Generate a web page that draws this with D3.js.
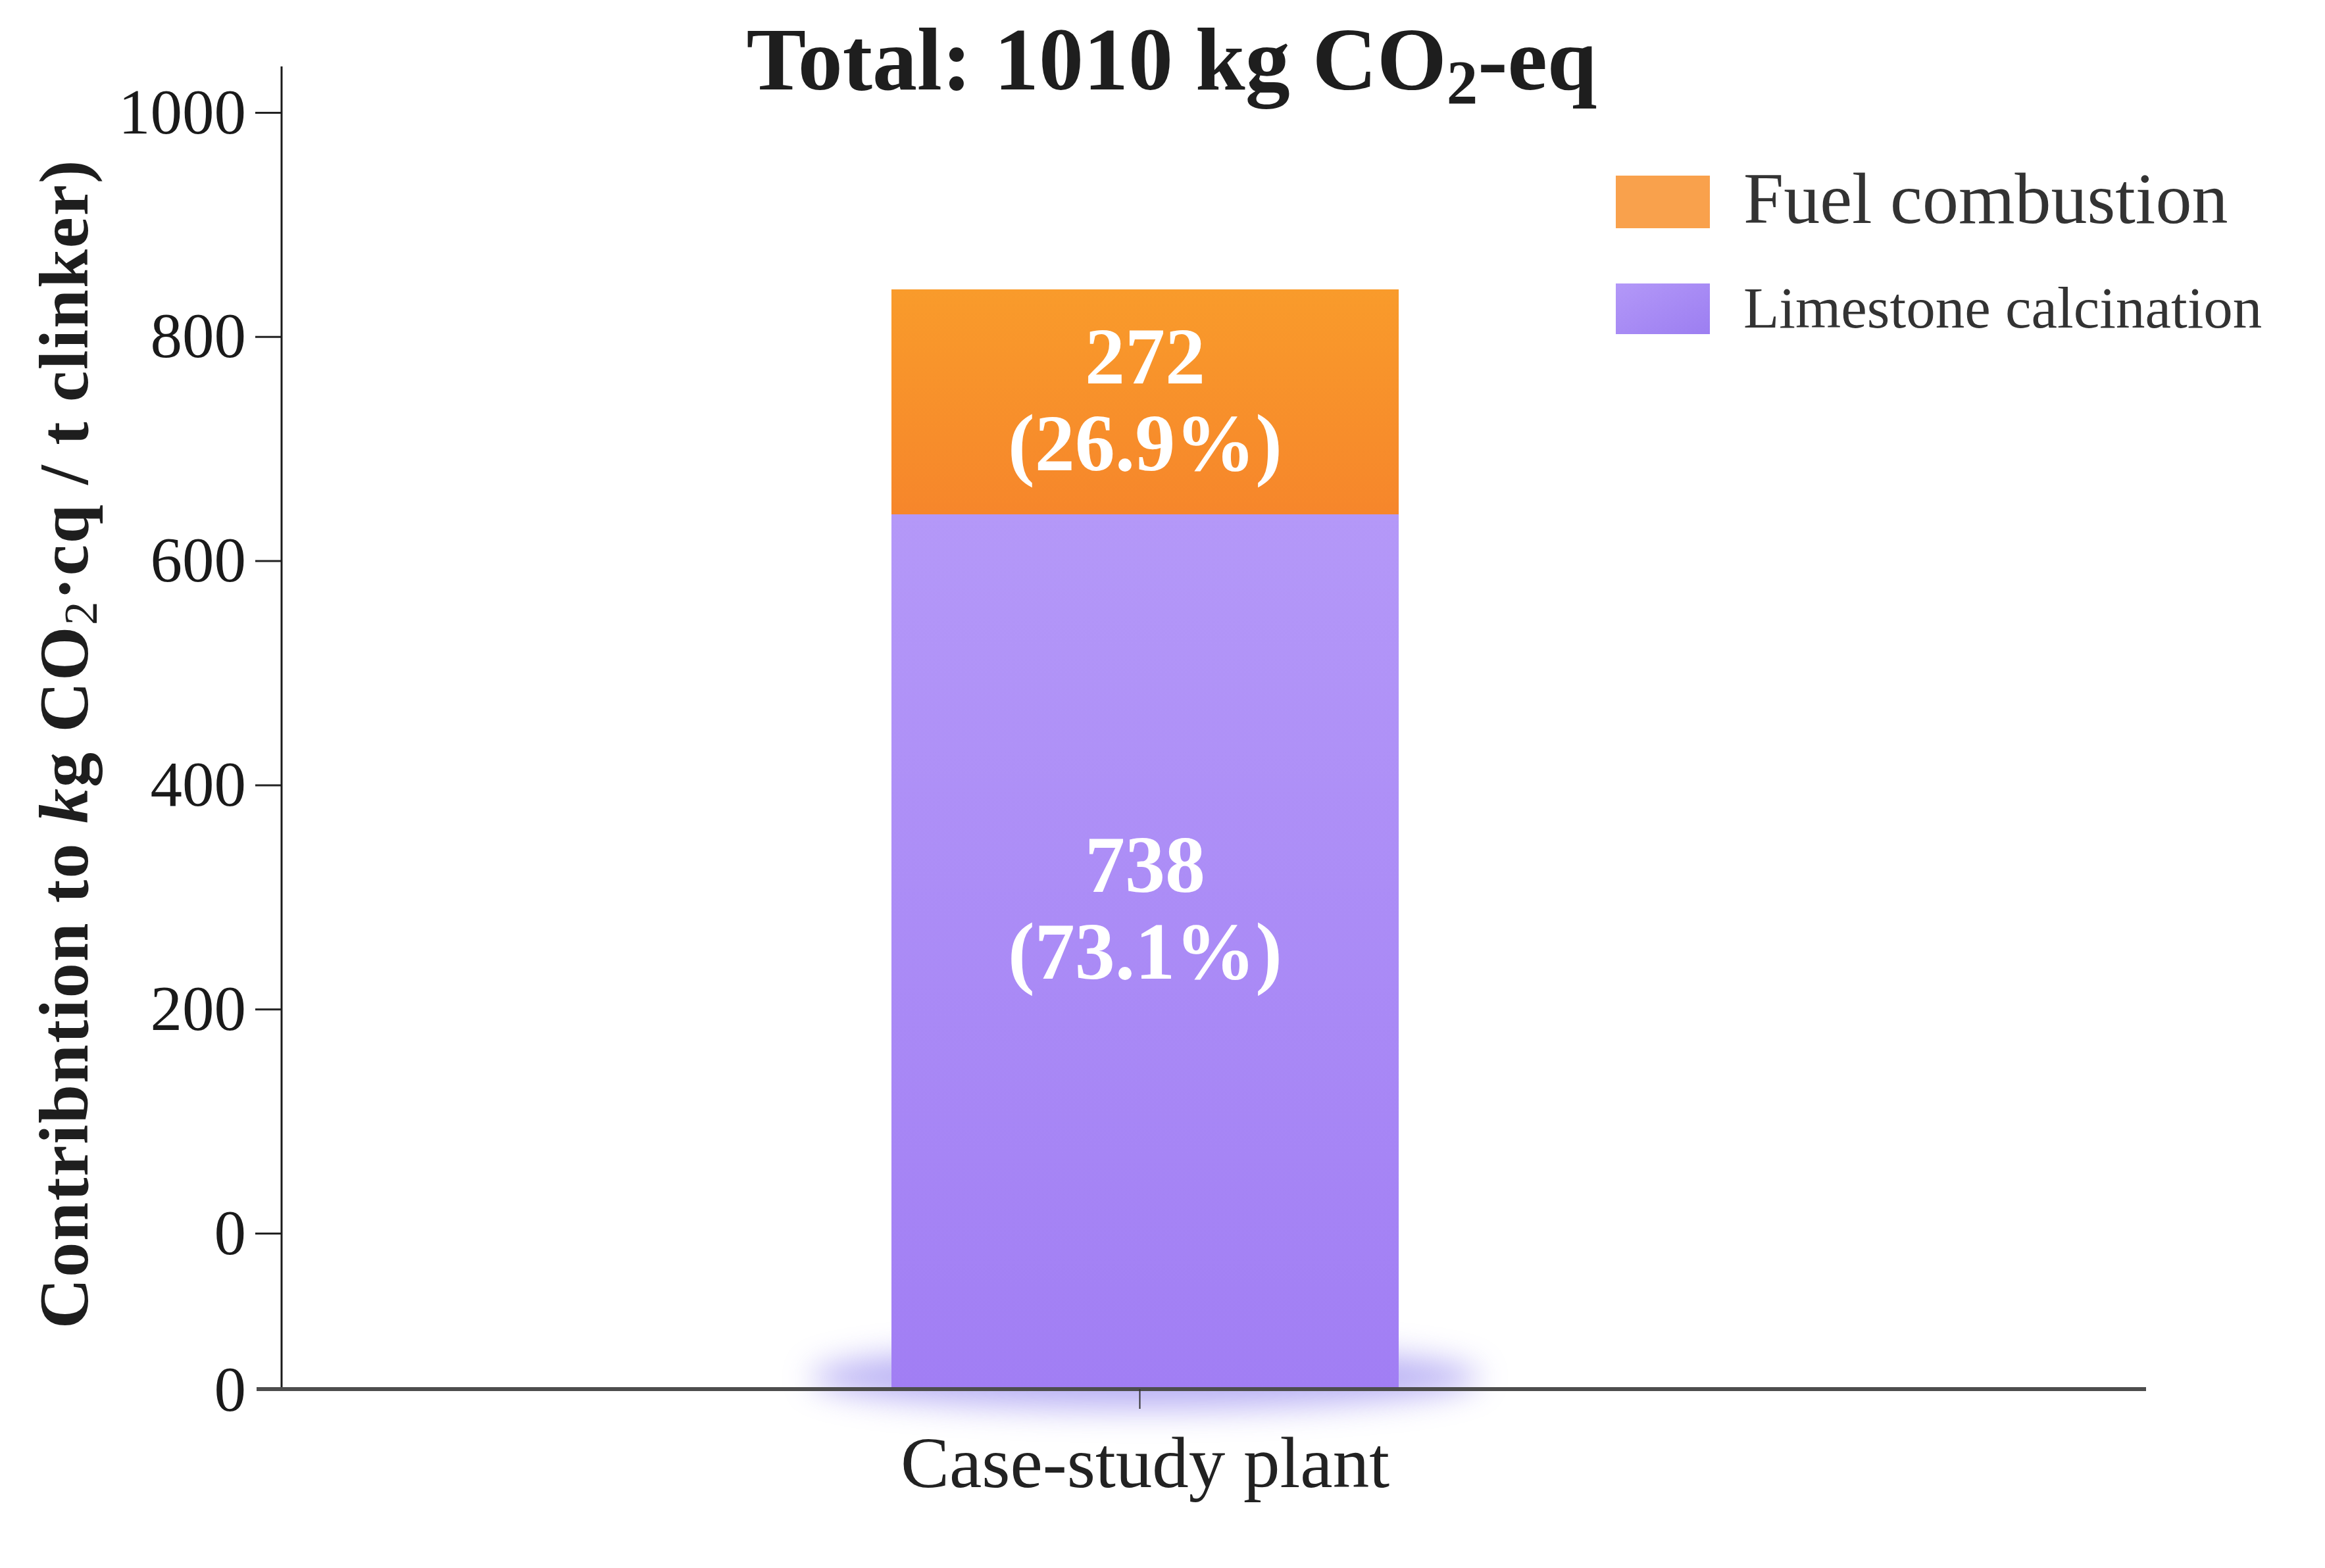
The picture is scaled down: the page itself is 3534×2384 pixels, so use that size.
<!DOCTYPE html>
<html>
<head>
<meta charset="utf-8">
<script src="https://cdn.jsdelivr.net/npm/d3@7"></script>
<style>
  html, body { margin: 0; padding: 0; background: #ffffff; }
  svg { display: block; }
  text { font-family: "Liberation Serif", "DejaVu Serif", serif; }
</style>
</head>
<body>
<svg id="chart" width="3534" height="2384"></svg>
<script>
// ---------------- data ----------------
const categories = ["Case-study plant"];
const seriesNames = ["Limestone calcination", "Fuel combustion"];   // stacking order (bottom -> top)
const limestoneValues = [738];
const fuelValues = [272];
const yTickValues = [0, 200, 400, 600, 800, 1000];
const baselineTickLabel = "0";
const legendNames = ["Fuel combustion", "Limestone calcination"];

// ---------------- layout ----------------
const W = 3534, H = 2384;
const axisX = 428, axisTop = 101, baseY = 2112, axisRight = 3262;
const svg = d3.select("#chart");

const defs = svg.append("defs");
const gO = defs.append("linearGradient").attr("id", "gOrange").attr("x1", 0).attr("y1", 0).attr("x2", 0).attr("y2", 1);
gO.append("stop").attr("offset", "0%").attr("stop-color", "#f99b2b");
gO.append("stop").attr("offset", "100%").attr("stop-color", "#f6862b");
const gP = defs.append("linearGradient").attr("id", "gPurple").attr("x1", 0).attr("y1", 0).attr("x2", 0).attr("y2", 1);
gP.append("stop").attr("offset", "0%").attr("stop-color", "#b498f8");
gP.append("stop").attr("offset", "100%").attr("stop-color", "#a17ef4");
const gLP = defs.append("linearGradient").attr("id", "gLegP").attr("x1", 0).attr("y1", 0).attr("x2", 1).attr("y2", 1);
gLP.append("stop").attr("offset", "0%").attr("stop-color", "#b398f8");
gLP.append("stop").attr("offset", "100%").attr("stop-color", "#9c7ef1");
const blur = defs.append("filter").attr("id", "glow").attr("x", "-50%").attr("y", "-300%").attr("width", "200%").attr("height", "700%");
blur.append("feGaussianBlur").attr("stdDeviation", 24);

const colors = { "Limestone calcination": "url(#gPurple)", "Fuel combustion": "url(#gOrange)" };
const legendColors = { "Limestone calcination": "url(#gLegP)", "Fuel combustion": "#f9a14c" };

// scales
const x = d3.scaleBand().domain(categories).range([584, 2897]).paddingInner(0).paddingOuter(1);
const yTicks = d3.scaleLinear().domain([0, 1000]).range([1875, 171]);
const totals = categories.map((c, i) => limestoneValues[i] + fuelValues[i]);
// stacked bar scale (piecewise, as drawn in the original figure)
const yBar = d3.scaleLinear().domain([0, limestoneValues[0], totals[0]]).range([baseY, 782, 440]);

// stack
const table = categories.map((c, i) => ({ cat: c, "Limestone calcination": limestoneValues[i], "Fuel combustion": fuelValues[i] }));
const stacked = d3.stack().keys(seriesNames)(table);

// glow under bar
svg.append("g").selectAll("ellipse").data(categories).join("ellipse")
  .attr("cx", d => x(d) + x.bandwidth() / 2)
  .attr("cy", baseY - 18)
  .attr("rx", x.bandwidth() * 0.66)
  .attr("ry", 48)
  .attr("fill", "#9d92f0")
  .attr("opacity", 0.7)
  .attr("filter", "url(#glow)");

// bars
const layers = svg.append("g").selectAll("g").data(stacked).join("g")
  .attr("fill", d => colors[d.key]);
layers.selectAll("rect").data(d => d).join("rect")
  .attr("x", d => x(d.data.cat))
  .attr("width", x.bandwidth())
  .attr("y", d => yBar(d[1]))
  .attr("height", d => yBar(d[0]) - yBar(d[1]));

// bar labels
const pct = d3.format(".1f");
const labelFrac = { "Limestone calcination": 0.45, "Fuel combustion": 0.49 };
stacked.forEach(layer => {
  layer.forEach((d, i) => {
    const v = d[1] - d[0];
    const top = yBar(d[1]), bot = yBar(d[0]);
    const cy = top + (bot - top) * labelFrac[layer.key];
    const cx = x(d.data.cat) + x.bandwidth() / 2;
    const t = svg.append("text")
      .attr("x", cx).attr("text-anchor", "middle")
      .attr("fill", "#ffffff").attr("font-weight", "bold").attr("font-size", 122);
    t.append("tspan").attr("x", cx).attr("y", cy - 25).text(v);
    t.append("tspan").attr("x", cx).attr("y", cy + 107).text("(" + pct(v / totals[i] * 100) + "%)");
  });
});

// y axis
const yAxis = d3.axisLeft(yTicks).tickValues(yTickValues).tickFormat(d3.format("d")).tickSize(40).tickPadding(14);
const gy = svg.append("g").attr("transform", `translate(${axisX},0)`).call(yAxis);
gy.select(".domain").remove();
gy.selectAll(".tick line").attr("stroke", "#222").attr("stroke-width", 3);
gy.selectAll(".tick text").attr("font-family", "Liberation Serif").attr("font-size", 97).attr("fill", "#1a1a1a");
svg.append("line").attr("x1", axisX).attr("x2", axisX).attr("y1", axisTop).attr("y2", baseY)
  .attr("stroke", "#1a1a1a").attr("stroke-width", 3);
// baseline tick label
svg.append("text").attr("x", axisX - 54).attr("y", baseY).attr("dy", "0.34em")
  .attr("text-anchor", "end").attr("font-size", 97).attr("fill", "#1a1a1a").text(baselineTickLabel);

// x axis
svg.append("line").attr("x1", axisX - 38).attr("x2", axisRight).attr("y1", baseY).attr("y2", baseY)
  .attr("stroke", "#4d4d4d").attr("stroke-width", 6);
const xAxis = d3.axisBottom(x).tickSize(30).tickPadding(0).tickFormat("");
const gx = svg.append("g").attr("transform", `translate(-8,${baseY})`).call(xAxis);
gx.select(".domain").remove();
gx.selectAll(".tick line").attr("stroke", "#333").attr("stroke-width", 2);
svg.append("g").selectAll("text").data(categories).join("text")
  .attr("x", d => x(d) + x.bandwidth() / 2).attr("y", 2261)
  .attr("text-anchor", "middle").attr("font-size", 111).attr("fill", "#222").text(d => d);

// title
const title = svg.append("text").attr("x", 1781).attr("y", 136).attr("text-anchor", "middle")
  .attr("font-size", 136).attr("font-weight", "bold").attr("fill", "#1e1e1e");
title.append("tspan").text("Total: " + d3.sum(totals) + " kg CO");
title.append("tspan").attr("font-size", 95).attr("dy", 22).text("2");
title.append("tspan").attr("dy", -22).text("-eq");

// y axis title
const yt = svg.append("text").attr("transform", "translate(133,1131) rotate(-90)")
  .attr("text-anchor", "middle").attr("font-size", 106).attr("font-weight", "bold").attr("fill", "#1e1e1e")
  .attr("letter-spacing", 2);
yt.append("tspan").text("Contribntion to ");
yt.append("tspan").attr("font-style", "italic").text("k");
yt.append("tspan").text("g CO");
yt.append("tspan").attr("font-size", 72).attr("font-weight", "normal").attr("dy", 14).text("2");
yt.append("tspan").attr("dy", -14).text("·cq / t clinker)");

// legend
const legendRows = [
  { name: legendNames[0], y: 267, h: 80, fs: 110, base: 339 },
  { name: legendNames[1], y: 431, h: 77, fs: 89, base: 498 }
];
const lg = svg.append("g");
legendRows.forEach(r => {
  lg.append("rect").attr("x", 2456).attr("y", r.y).attr("width", 143).attr("height", r.h).attr("fill", legendColors[r.name]);
  lg.append("text").attr("x", 2650).attr("y", r.base).attr("font-size", r.fs).attr("fill", "#333").text(r.name);
});
</script>
</body>
</html>
